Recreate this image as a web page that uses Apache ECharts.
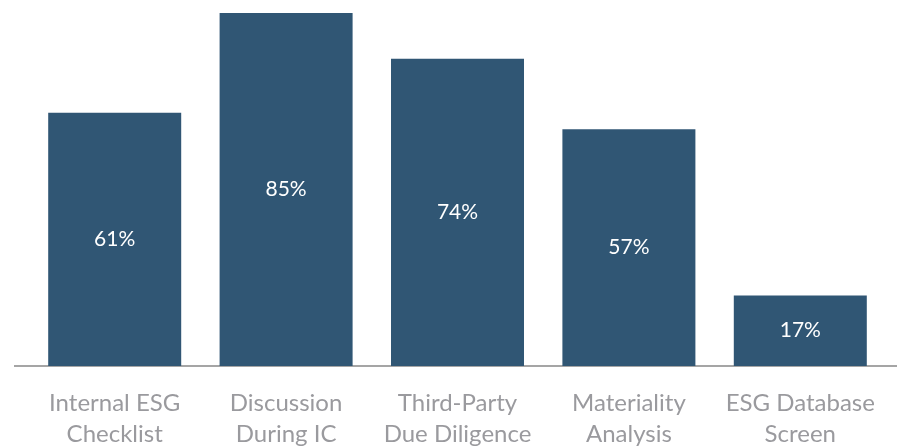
<!DOCTYPE html>
<html>
<head>
<meta charset="utf-8">
<script src="https://cdn.jsdelivr.net/npm/echarts@6/dist/echarts.min.js"></script>
<style>
  html, body { margin: 0; padding: 0; background: #fff; }
  #chart { width: 897px; height: 448px; }
</style>
</head>
<body>
<div id="chart"></div>
<script>
// data
const categories = [
  'Internal ESG\nChecklist',
  'Discussion\nDuring IC',
  'Third-Party\nDue Diligence',
  'Materiality\nAnalysis',
  'ESG Database\nScreen'
]
const shares = [61, 85, 74, 57, 17]

const chart = echarts.init(document.getElementById('chart'))
const option = {
  animation: false,
  grid: { left: 29, right: 11, top: 13, bottom: 82, outerBoundsMode: 'none', containLabel: false },
  xAxis: {
    type: 'category',
    data: categories,
    axisLine: { show: false },
    axisTick: { show: false },
    axisLabel: {
      interval: 0,
      color: '#9a9a9e',
      fontFamily: 'Lato',
      fontSize: 24,
      lineHeight: 31,
      margin: 22
    }
  },
  yAxis: {
    type: 'value',
    min: 0,
    max: 85,
    show: false
  },
  series: [{
    type: 'bar',
    data: shares,
    barWidth: 133,
    itemStyle: { color: '#305674' },
    label: {
      show: true,
      position: 'inside',
      formatter: '{c}%',
      color: '#fff',
      fontFamily: 'Lato',
      fontSize: 21
    }
  }],
  graphic: [{
    type: 'line',
    shape: { x1: 14, y1: 366, x2: 897, y2: 366 },
    style: { stroke: '#a5a5a5', lineWidth: 2 },
    z: 0
  }]
}
chart.setOption(option)
</script>
</body>
</html>
